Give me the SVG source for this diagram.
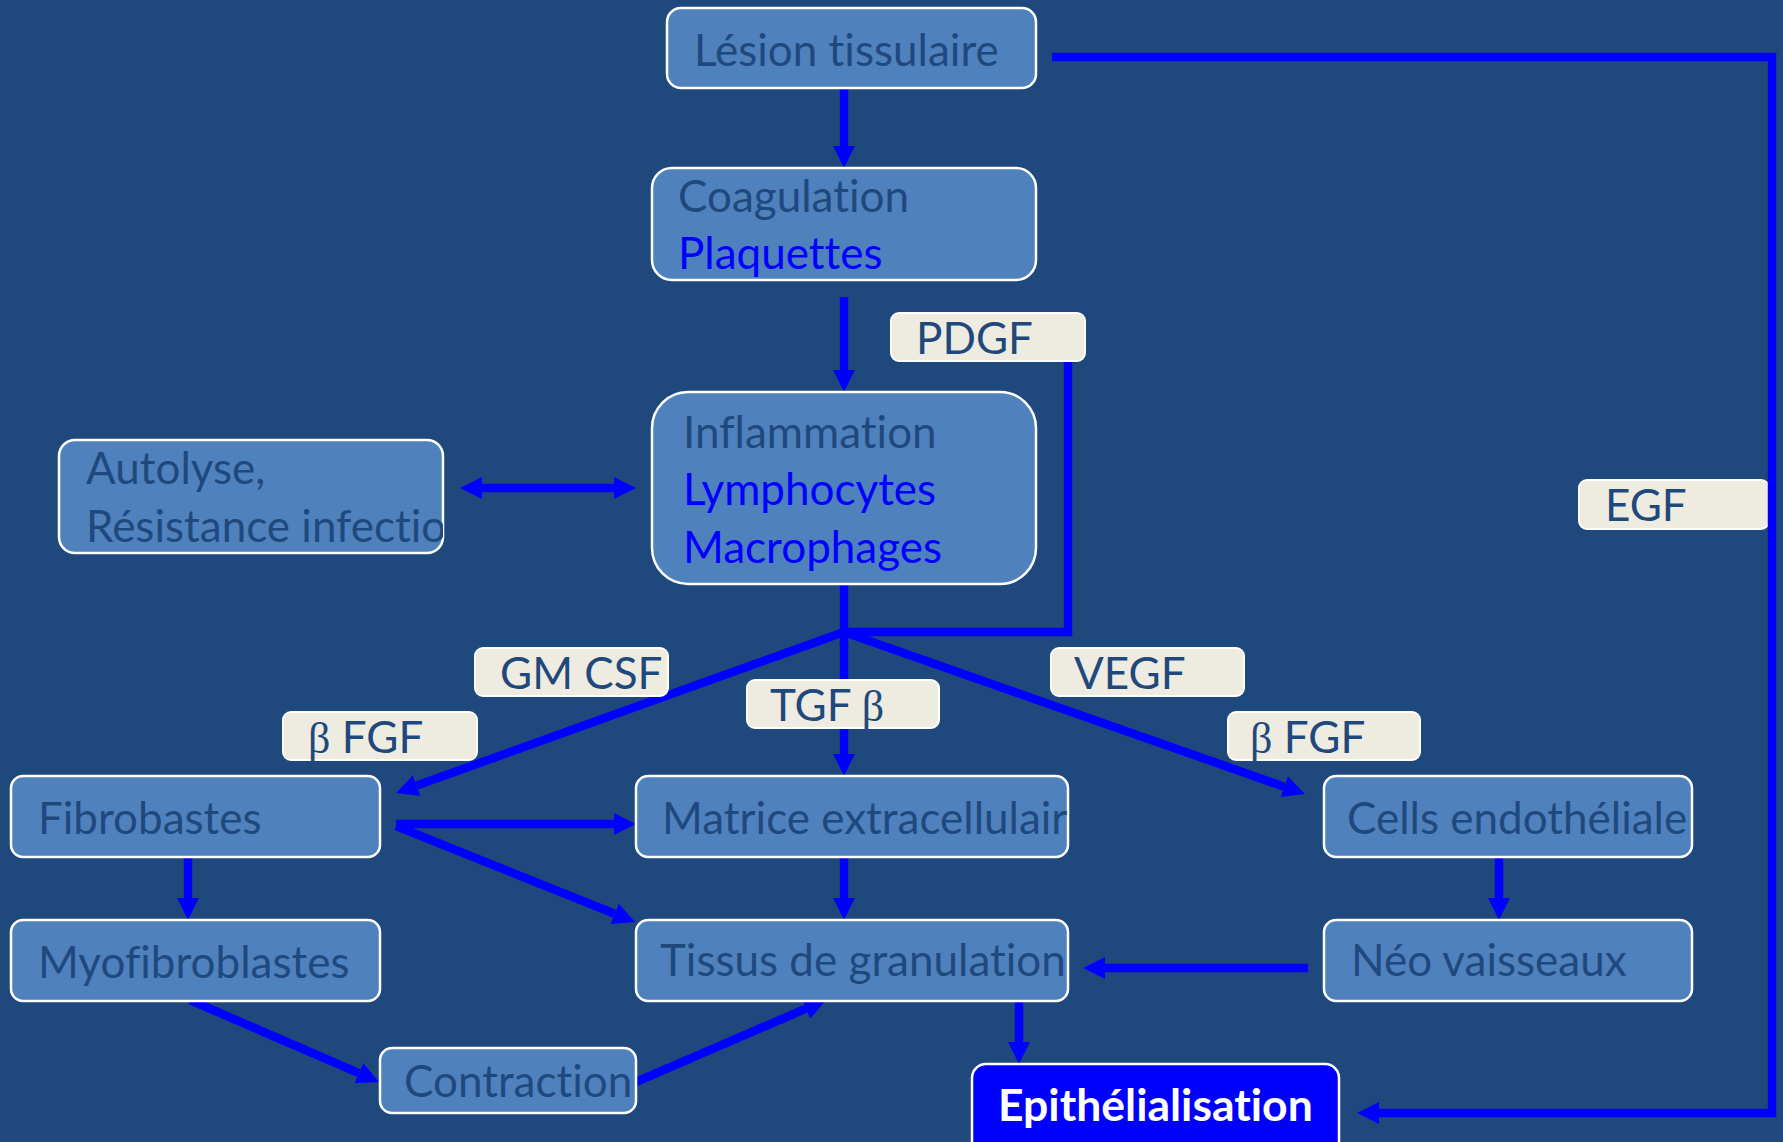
<svg xmlns="http://www.w3.org/2000/svg" width="1783" height="1142" viewBox="0 0 1783 1142">
<style>
.bg{fill:#1F497D}
.node{fill:#4F81BD;stroke:#FFFFFF;stroke-width:2.5}
.lbl{fill:#EEECE1;stroke:#FFFFFF;stroke-width:2}
.t{font-family:Lato,"Open Sans",sans-serif;font-size:44px;fill:#1F497D;font-variant-ligatures:none}
.b{fill:#0000FF}
.beta{font-family:"Liberation Serif",serif}
.ep{fill:#0000FF;stroke:#FFFFFF;stroke-width:2.5}
.et{font-family:Lato,"Open Sans",sans-serif;font-size:44.5px;font-weight:bold;fill:#FFFFFF;font-variant-ligatures:none}
.c{fill:none;stroke:#0000FF;stroke-width:8.5}
.ca{fill:none;stroke:#0000FF;stroke-width:8.5;marker-end:url(#ah)}
</style>
<defs>
<marker id="ah" viewBox="0 0 10 10" refX="0" refY="5" markerUnits="userSpaceOnUse" markerWidth="22" markerHeight="24" orient="auto-start-reverse">
<path d="M0,0 L10,5 L0,10 z" fill="#0000FF"/>
</marker>
<clipPath id="cAuto"><rect x="59" y="440" width="384" height="113" rx="16"/></clipPath>
<clipPath id="cMat"><rect x="636" y="776" width="432" height="81" rx="12"/></clipPath>
<clipPath id="cCell"><rect x="1324" y="776" width="368" height="81" rx="12"/></clipPath>
<clipPath id="cTis"><rect x="636" y="920" width="432" height="81" rx="12"/></clipPath>
<clipPath id="cCon"><rect x="380" y="1048" width="256" height="65" rx="12"/></clipPath>
</defs>
<rect class="bg" x="0" y="0" width="1783" height="1142"/>

<g id="egf">
<rect class="lbl" x="1579" y="480" width="190" height="49" rx="8"/>
<text class="t" x="1605" y="521">EGF</text>
</g>

<g id="connectors">
<path class="ca" d="M844,89 V146"/>
<path class="ca" d="M844,297 V370"/>
<path class="c" d="M844,585 V632"/>
<path class="c" d="M1068,361 V632 H840"/>
<path class="ca" d="M844,632 L416.7,785.6"/>
<path class="ca" d="M844,636 V754"/>
<path class="ca" d="M844,632 L1284.2,786.7"/>
<path class="c" d="M482,488 H614" style="marker-start:url(#ah);marker-end:url(#ah)"/>
<path class="ca" d="M396,824 H614"/>
<path class="ca" d="M396,826 L614.6,913.8"/>
<path class="ca" d="M188,857 V898"/>
<path class="ca" d="M190,1000 L358.8,1073.2"/>
<path class="ca" d="M636,1082 L805.8,1008.7"/>
<path class="ca" d="M844,857 V898"/>
<path class="ca" d="M1499,857 V898"/>
<path class="ca" d="M1308,968 H1105"/>
<path class="ca" d="M1019,1001 V1042"/>
<path class="ca" d="M1052,57 H1772 V1113 H1379" style="stroke-linejoin:miter"/>
</g>

<g id="lesion">
<rect class="node" x="667" y="8" width="369" height="80" rx="14"/>
<text class="t" x="694" y="66">Lésion tissulaire</text>
</g>
<g id="coagulation">
<rect class="node" x="652" y="168" width="384" height="112" rx="20"/>
<text class="t" x="678" y="212">Coagulation</text>
<text class="t b" x="678" y="269">Plaquettes</text>
</g>
<g id="inflammation">
<rect class="node" x="652" y="392" width="384" height="192" rx="36"/>
<text class="t" x="683" y="448">Inflammation</text>
<text class="t b" x="683" y="505">Lymphocytes</text>
<text class="t b" x="683" y="563">Macrophages</text>
</g>
<g id="autolyse">
<rect class="node" x="59" y="440" width="384" height="113" rx="16"/>
<g clip-path="url(#cAuto)">
<text class="t" x="86" y="484">Autolyse,</text>
<text class="t" x="86" y="542">Résistance infectio</text>
</g>
</g>
<g id="pdgf">
<rect class="lbl" x="891" y="313" width="194" height="48" rx="8"/>
<text class="t" x="916" y="354">PDGF</text>
</g>
<g id="gmcsf">
<rect class="lbl" x="475" y="648" width="193" height="48" rx="8"/>
<text class="t" x="500" y="689">GM CSF</text>
</g>
<g id="tgfb">
<rect class="lbl" x="747" y="680" width="192" height="48" rx="8"/>
<text class="t" x="770" y="721">TGF <tspan class="beta">β</tspan></text>
</g>
<g id="vegf">
<rect class="lbl" x="1051" y="648" width="193" height="48" rx="8"/>
<text class="t" x="1074" y="689">VEGF</text>
</g>
<g id="bfgf-left">
<rect class="lbl" x="283" y="712" width="194" height="48" rx="8"/>
<text class="t" x="308" y="753"><tspan class="beta">β</tspan> FGF</text>
</g>
<g id="bfgf-right">
<rect class="lbl" x="1228" y="712" width="192" height="48" rx="8"/>
<text class="t" x="1250" y="753"><tspan class="beta">β</tspan> FGF</text>
</g>
<g id="fibrobastes">
<rect class="node" x="11" y="776" width="369" height="81" rx="12"/>
<text class="t" x="38" y="834">Fibrobastes</text>
</g>
<g id="matrice">
<rect class="node" x="636" y="776" width="432" height="81" rx="12"/>
<text class="t" x="662" y="834" clip-path="url(#cMat)">Matrice extracellulair</text>
</g>
<g id="cells">
<rect class="node" x="1324" y="776" width="368" height="81" rx="12"/>
<text class="t" x="1347" y="834" clip-path="url(#cCell)">Cells endothéliale</text>
</g>
<g id="myofibroblastes">
<rect class="node" x="11" y="920" width="369" height="81" rx="12"/>
<text class="t" x="38" y="978">Myofibroblastes</text>
</g>
<g id="tissus">
<rect class="node" x="636" y="920" width="432" height="81" rx="12"/>
<text class="t" x="660" y="976" clip-path="url(#cTis)">Tissus de granulation</text>
</g>
<g id="neo">
<rect class="node" x="1324" y="920" width="368" height="81" rx="12"/>
<text class="t" x="1351" y="976">Néo vaisseaux</text>
</g>
<g id="contraction">
<rect class="node" x="380" y="1048" width="256" height="65" rx="12"/>
<text class="t" x="404" y="1097" clip-path="url(#cCon)">Contraction</text>
</g>
<g id="epithelialisation">
<rect class="ep" x="972" y="1064" width="367" height="100" rx="14"/>
<text class="et" x="998" y="1121">Epithélialisation</text>
</g>
</svg>
